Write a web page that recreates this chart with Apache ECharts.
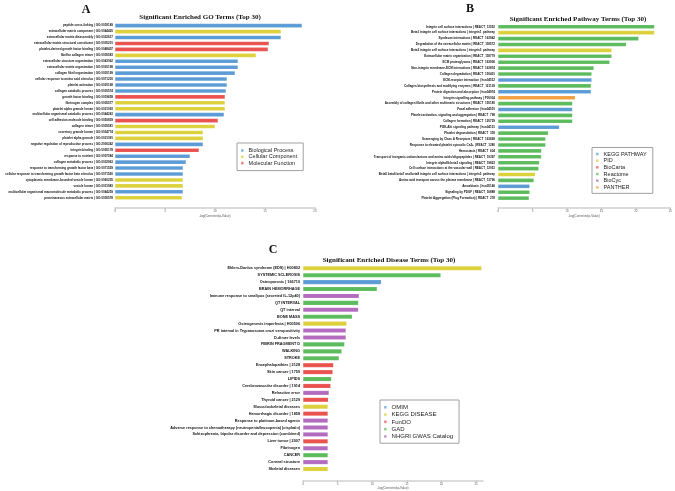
<!DOCTYPE html>
<html><head><meta charset="utf-8">
<script src="https://cdn.jsdelivr.net/npm/echarts@6/dist/echarts.min.js"></script>
<style>html,body{margin:0;padding:0;background:#fff}#c{width:675px;height:491px}</style>
</head><body><div id="c"></div>
<script>
// ---------- Panel A: GO terms ----------
const goTerms = [
  "peptide cross-linking | GO:0018149",
  "extracellular matrix component | GO:0044420",
  "extracellular matrix disassembly | GO:0022617",
  "extracellular matrix structural constituent | GO:0005201",
  "platelet-derived growth factor binding | GO:0048407",
  "fibrillar collagen trimer | GO:0005583",
  "extracellular structure organization | GO:0043062",
  "extracellular matrix organization | GO:0030198",
  "collagen fibril organization | GO:0030199",
  "cellular response to amino acid stimulus | GO:0071230",
  "platelet activation | GO:0030168",
  "collagen catabolic process | GO:0030574",
  "growth factor binding | GO:0019838",
  "fibrinogen complex | GO:0005577",
  "platelet alpha granule lumen | GO:0031093",
  "multicellular organismal catabolic process | GO:0044243",
  "cell adhesion molecule binding | GO:0050839",
  "collagen trimer | GO:0005581",
  "secretory granule lumen | GO:0034774",
  "platelet alpha granule | GO:0031091",
  "negative regulation of reproductive process | GO:2000242",
  "integrin binding | GO:0005178",
  "response to nutrient | GO:0007584",
  "collagen metabolic process | GO:0032963",
  "response to transforming growth factor beta | GO:0071559",
  "cellular response to transforming growth factor beta stimulus | GO:0071560",
  "cytoplasmic membrane-bounded vesicle lumen | GO:0060205",
  "vesicle lumen | GO:0031983",
  "multicellular organismal macromolecule metabolic process | GO:0044259",
  "proteinaceous extracellular matrix | GO:0005578"
];
const goValues = [18.7,16.6,16.6,15.4,15.3,14.1,12.3,12.3,12.0,11.2,11.2,11.1,11.0,11.0,11.0,10.9,
  10.3,10.0,8.8,8.8,8.8,8.4,7.5,7.1,6.8,6.8,6.8,6.8,6.8,6.7];
const goGroups = ["Biological Process","Cellular Component","Biological Process","Molecular Function",
  "Molecular Function","Cellular Component","Biological Process","Biological Process","Biological Process",
  "Biological Process","Biological Process","Biological Process","Molecular Function","Cellular Component",
  "Cellular Component","Biological Process","Molecular Function","Cellular Component","Cellular Component",
  "Cellular Component","Biological Process","Molecular Function","Biological Process","Biological Process",
  "Biological Process","Biological Process","Cellular Component","Cellular Component","Biological Process",
  "Cellular Component"];
const goLegend = ["Biological Process","Cellular Component","Molecular Function"];
const goTicks = [0,5,10,15,20];

// ---------- Panel B: Pathway terms ----------
const pwTerms = [
  "Integrin cell surface interactions | REACT_13552",
  "Beta1 integrin cell surface interactions | integrin1_pathway",
  "Syndecan interactions | REACT_163942",
  "Degradation of the extracellular matrix | REACT_118572",
  "Beta3 integrin cell surface interactions | integrin3_pathway",
  "Extracellular matrix organization | REACT_118779",
  "ECM proteoglycans | REACT_163906",
  "Non-integrin membrane-ECM interactions | REACT_163874",
  "Collagen degradation | REACT_150401",
  "ECM-receptor interaction | hsa04512",
  "Collagen biosynthesis and modifying enzymes | REACT_121139",
  "Protein digestion and absorption | hsa04974",
  "Integrin signalling pathway | P00034",
  "Assembly of collagen fibrils and other multimeric structures | REACT_150180",
  "Focal adhesion | hsa04510",
  "Platelet activation, signaling and aggregation | REACT_798",
  "Collagen formation | REACT_120729",
  "PI3K-Akt signaling pathway | hsa04151",
  "Platelet degranulation | REACT_318",
  "Scavenging by Class A Receptors | REACT_163669",
  "Response to elevated platelet cytosolic Ca2+ | REACT_1280",
  "Hemostasis | REACT_604",
  "Transport of inorganic cations/anions and amino acids/oligopeptides | REACT_19397",
  "Integrin alphaIIb beta3 signaling | REACT_19823",
  "Cell surface interactions at the vascular wall | REACT_12051",
  "Beta5 beta6 beta7 and beta8 integrin cell surface interactions | integrin5_pathway",
  "Amino acid transport across the plasma membrane | REACT_13796",
  "Amoebiasis | hsa05146",
  "Signaling by PDGF | REACT_16888",
  "Platelet Aggregation (Plug Formation) | REACT_278"
];
const pwValues = [22.7,22.7,20.4,18.6,16.5,16.5,16.2,13.9,13.6,13.6,13.5,13.5,11.2,10.8,10.8,10.8,
  10.8,8.9,7.3,6.9,6.9,6.3,6.3,6.0,5.9,5.4,5.2,4.6,4.6,4.5];
const pwGroups = ["Reactome","PID","Reactome","Reactome","PID","Reactome","Reactome","Reactome","Reactome",
  "KEGG PATHWAY","Reactome","KEGG PATHWAY","PANTHER","Reactome","KEGG PATHWAY","Reactome","Reactome",
  "KEGG PATHWAY","Reactome","Reactome","Reactome","Reactome","Reactome","Reactome","Reactome","PID",
  "Reactome","KEGG PATHWAY","Reactome","Reactome"];
const pwLegend = ["KEGG PATHWAY","PID","BioCarta","Reactome","BioCyc","PANTHER"];
const pwTicks = [0,5,10,15,20,25];

// ---------- Panel C: Disease terms ----------
const dzTerms = [
  "Ehlers-Danlos syndrome (EDS) | H00802",
  "SYSTEMIC SCLEROSIS",
  "Osteoporosis | 166710",
  "BRAIN HEMORRHAGE",
  "Immune response to smallpox (secreted IL-12p40)",
  "QT INTERVAL",
  "QT interval",
  "BONE MASS",
  "Osteogenesis imperfecta | H00506",
  "PR interval in Trypanosoma cruzi seropositivity",
  "D-dimer levels",
  "FIBRIN FRAGMENT D",
  "WALKING",
  "STROKE",
  "Encephalopathies | 2128",
  "Skin cancer | 1759",
  "LIPIDS",
  "Cerebrovascular disorder | 1914",
  "Refractive error",
  "Thyroid cancer | 2129",
  "Musculoskeletal diseases",
  "Hemorrhagic disorder | 1858",
  "Response to platinum-based agents",
  "Adverse response to chemotherapy (neutropenia/leucopenia) (cisplatin)",
  "Schizophrenia, bipolar disorder and depression (combined)",
  "Liver tumor | 2007",
  "Fibrinogen",
  "CANCER",
  "Corneal structure",
  "Skeletal diseases"
];
const dzValues = [25.8,19.9,11.3,10.7,8.1,8.0,8.0,7.1,6.3,6.2,6.2,6.0,5.6,5.2,4.4,4.3,4.1,4.0,3.75,3.65,
  3.6,3.6,3.6,3.6,3.6,3.6,3.6,3.6,3.6,3.6];
const dzGroups = ["KEGG DISEASE","GAD","OMIM","GAD","NHGRI GWAS Catalog","GAD","NHGRI GWAS Catalog","GAD",
  "KEGG DISEASE","NHGRI GWAS Catalog","NHGRI GWAS Catalog","GAD","GAD","GAD","FunDO","FunDO","GAD","FunDO",
  "NHGRI GWAS Catalog","FunDO","KEGG DISEASE","FunDO","NHGRI GWAS Catalog","NHGRI GWAS Catalog",
  "NHGRI GWAS Catalog","FunDO","NHGRI GWAS Catalog","GAD","NHGRI GWAS Catalog","KEGG DISEASE"];
const dzLegend = ["OMIM","KEGG DISEASE","FunDO","GAD","NHGRI GWAS Catalog"];
const dzTicks = [0,5,10,15,20,25];

const axisTitle = "-log(Corrected p-Value)";

const colorMap = {
  "Biological Process":"#5b9bd6","Cellular Component":"#ddd13b","Molecular Function":"#e9524e",
  "KEGG PATHWAY":"#5b9bd6","PID":"#ddd13b","BioCarta":"#e9524e","Reactome":"#5cbb5c","BioCyc":"#b36bbf","PANTHER":"#f4a03f",
  "OMIM":"#5b9bd6","KEGG DISEASE":"#ddd13b","FunDO":"#e9524e","GAD":"#5cbb5c","NHGRI GWAS Catalog":"#b36bbf"
};

const chart = echarts.init(document.getElementById('c'), null, {renderer:'canvas'});

function xAx(gi, max, ticks, offset, gap){
  return {
    gridIndex: gi, type:'value', min:0, max:max, interval:5, offset: offset,
    axisLine:{show:true, lineStyle:{color:'#cfcfcf', width:1.5}},
    axisTick:{show:true, length:2, lineStyle:{color:'#bbb', width:0.6}, customValues: ticks},
    axisLabel:{fontSize:3, color:'#666', margin:2, customValues: ticks},
    splitLine:{show:false},
    name: axisTitle, nameLocation:'middle', nameGap: gap,
    nameTextStyle:{fontSize:3, color:'#555', fontFamily:'Liberation Sans'}
  };
}
function yAx(gi, terms, fs, margin){
  return {
    gridIndex: gi, type:'category', data: terms, inverse:true,
    axisLine:{show:false}, axisTick:{show:false}, splitLine:{show:false},
    axisLabel:{fontSize:fs, color:'#111', margin:margin, fontFamily:'Liberation Sans', fontWeight:'bold', interval:0}
  };
}
function mkSeries(gi, legendNames, values, groups, bw, stackName){
  return legendNames.map(g => ({
    name: g, type:'bar', xAxisIndex: gi, yAxisIndex: gi, stack: stackName, barWidth: bw,
    itemStyle:{color: colorMap[g], borderColor:'rgba(255,255,255,0.35)', borderWidth:0.4},
    emphasis:{disabled:true},
    data: values.map((v,i)=> groups[i]===g ? v : null)
  }));
}
function mkLegend(names, left, top, fs, lh, gap, pad){
  return {
    data: names, orient:'vertical', left:left, top:top, icon:'rect',
    itemWidth:2.6, itemHeight:2.6, itemGap:gap, padding:pad,
    borderColor:'#a0a0a0', borderWidth:1, backgroundColor:'#fff',
    textStyle:{fontSize:fs, lineHeight:lh, color:'#222', fontFamily:'Liberation Sans'},
    selectedMode:false
  };
}
function txt(x,y,s,fs){
  return {type:'text', x:x, y:y, style:{text:s, fontSize:fs, fontWeight:'bold', fontFamily:'Liberation Serif',
    fill:'#111', textAlign:'center', textVerticalAlign:'middle'}};
}

const option = {
  animation:false,
  backgroundColor:'#fff',
  graphic:[
    txt(86,9.5,'A',12), txt(470,8.5,'B',12), txt(273,250,'C',12),
    txt(200,17.3,'Significant Enriched GO Terms (Top 30)',7),
    txt(578,19.3,'Significant Enriched Pathway Terms (Top 30)',7),
    txt(389,260,'Significant Enriched Disease Terms (Top 30)',7)
  ],
  grid:[
    {left:115, width:200, top:22.7, height:178},
    {left:498, width:174, top:23.8, height:177.3},
    {left:303, width:180, top:264.8, height:212}
  ],
  xAxis:[ xAx(0,20,goTicks,7,6.5), xAx(1,25,pwTicks,7,6.5), xAx(2,26,dzTicks,8,6.5) ],
  yAxis:[ yAx(0,goTerms,3,2), yAx(1,pwTerms,3,3), yAx(2,dzTerms,3.8,3) ],
  legend:[
    mkLegend(goLegend, 237, 143, 5.5, 6, 0.3, [4.5,6,4.5,3]),
    mkLegend(pwLegend, 592, 147.5, 5.5, 6, 0.67, [3.5,6,3,3]),
    mkLegend(dzLegend, 380, 400, 6, 6.5, 0.8, [4,6,3.5,3])
  ],
  series: [].concat(
    mkSeries(0, goLegend, goValues, goGroups, 4, 'a'),
    mkSeries(1, pwLegend, pwValues, pwGroups, 4, 'b'),
    mkSeries(2, dzLegend, dzValues, dzGroups, 4.5, 'c')
  )
};
chart.setOption(option);
</script>
</body></html>
